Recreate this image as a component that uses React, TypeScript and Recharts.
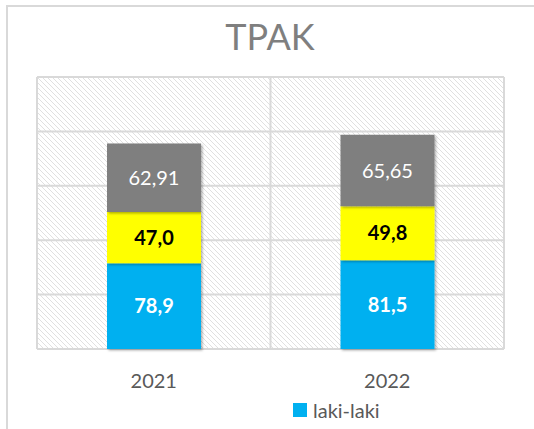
import React from 'react';
import { BarChart, Bar, XAxis, YAxis, CartesianGrid, Legend, LabelList, Rectangle } from 'recharts';

const years = ['2021', '2022'];
const lakiLaki = [78.9, 81.5];
const perempuan = [47.0, 49.8];
const total = [62.91, 65.65];
const yTicks = [0, 50, 100, 150, 200, 250];

const data = years.map((year, i) => ({
  year,
  lakiLaki: lakiLaki[i],
  perempuan: perempuan[i],
  total: total[i],
}));

const font = 'Lato, "Open Sans", sans-serif';

const fmt = (digits: number) => (v: any) => Number(v).toFixed(digits).replace('.', ',');

const ShadowBar = (props: any) => <Rectangle {...props} filter="url(#barShadow)" />;

const LegendContent = () => (
  <div style={{ display: 'flex', alignItems: 'center', fontFamily: font, fontSize: 20, color: '#595959' }}>
    <span style={{ display: 'inline-block', width: 14, height: 14, background: '#00B0F0', marginRight: 6 }} />
    <span>laki-laki</span>
  </div>
);

export default function App() {
  return (
    <div style={{ position: 'absolute', left: 0, top: 0, width: 534, height: 429, overflow: 'hidden', background: '#fff' }}>
      <div
        style={{
          position: 'absolute',
          left: 6,
          top: 5,
          width: 600,
          height: 500,
          borderLeft: '2px solid #D9D9D9',
          borderTop: '2px solid #D9D9D9',
        }}
      />
      <div
        style={{
          position: 'absolute',
          left: 0,
          top: 14,
          width: 540,
          textAlign: 'center',
          fontFamily: font,
          fontSize: 36,
          color: '#7F7F7F',
        }}
      >
        TPAK
      </div>
      <div style={{ position: 'absolute', left: 0, top: 0 }}>
        <BarChart width={534} height={429} data={data} margin={{ top: 77, right: 30, left: 37, bottom: 0 }}>
          <defs>
            <pattern id="hatch" width="5" height="5" patternUnits="userSpaceOnUse">
              <rect width="5" height="5" fill="#FFFFFF" />
              <path d="M-1,-1 L6,6 M4,-1 L6,1 M-1,4 L1,6" stroke="#E0E0E0" strokeWidth="1" />
            </pattern>
            <filter id="barShadow" x="-10%" y="-10%" width="130%" height="130%">
              <feDropShadow dx="1.5" dy="1.5" stdDeviation="1" floodColor="#000" floodOpacity="0.3" />
            </filter>
          </defs>
          <CartesianGrid
            fill="url(#hatch)"
            fillOpacity={1}
            stroke="#D9D9D9"
            strokeWidth={2}
            verticalPoints={[37, 270.5, 504]}
          />
          <XAxis
            dataKey="year"
            height={80}
            axisLine={false}
            tickLine={false}
            tickSize={0}
            tickMargin={25}
            tick={{ fill: '#595959', fontSize: 20, fontFamily: font }}
          />
          <YAxis hide domain={[0, 250]} ticks={yTicks} />
          <Legend
            layout="vertical"
            align="center"
            verticalAlign="middle"
            wrapperStyle={{ left: 293, top: 398, width: 120 }}
            content={<LegendContent />}
          />
          <Bar dataKey="lakiLaki" name="laki-laki" stackId="a" fill="#00B0F0" barSize={94} shape={ShadowBar} isAnimationActive={false}>
            <LabelList dataKey="lakiLaki" position="center" formatter={fmt(1)} fill="#FFFFFF" fontWeight="bold" fontSize={20} fontFamily={font} />
          </Bar>
          <Bar dataKey="perempuan" name="perempuan" stackId="a" fill="#FFFF00" barSize={94} shape={ShadowBar} isAnimationActive={false}>
            <LabelList dataKey="perempuan" position="center" formatter={fmt(1)} fill="#000000" fontWeight="bold" fontSize={20} fontFamily={font} />
          </Bar>
          <Bar dataKey="total" name="total" stackId="a" fill="#7F7F7F" barSize={94} shape={ShadowBar} isAnimationActive={false}>
            <LabelList dataKey="total" position="center" formatter={fmt(2)} fill="#FFFFFF" fontSize={20} fontFamily={font} />
          </Bar>
        </BarChart>
      </div>
    </div>
  );
}
